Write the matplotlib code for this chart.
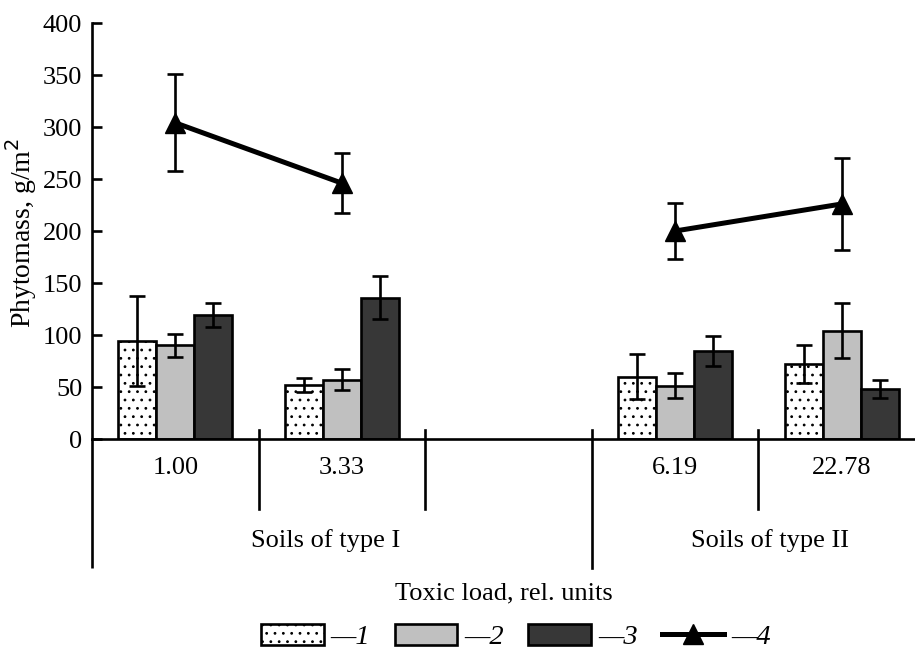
import matplotlib
matplotlib.use("Agg")
import matplotlib.pyplot as plt
import matplotlib.transforms as mtransforms
from matplotlib.patches import Patch
from matplotlib.lines import Line2D

plt.rcParams['font.family'] = ['Liberation Serif', 'DejaVu Serif']
plt.rcParams['hatch.linewidth'] = 0.8
plt.rcParams['hatch.color'] = '#555555'

# ---- data ----
categories = ["1.00", "3.33", "6.19", "22.78"]
positions = [0, 1, 3, 4]
soil_types = ["I", "I", "II", "II"]
soil_labels = ["Soils of type I", "Soils of type II"]
series1 = [94, 52, 60, 72]
err1 = [43.5, 7, 22, 18.5]
series2 = [90, 57, 51, 104]
err2 = [11, 10, 12, 26.5]
series3 = [119, 136, 85, 48]
err3 = [11.5, 20.5, 14.5, 8.5]
series4 = [304, 246, 200, 226]
err4 = [46.5, 29, 27, 44.5]
yticks = [0, 50, 100, 150, 200, 250, 300, 350, 400]
legend_labels = ["\u20141", "\u20142", "\u20143", "\u20144"]

FS = 19

fig = plt.figure(figsize=(9.15, 6.51), dpi=100)
W, H = 915, 651
ax = fig.add_axes([92 / W, (H - 439) / H, (925 - 92) / W, (439 - 23) / H])

bw = 0.228
lw = 1.9
ekw = dict(ecolor='black', elinewidth=lw, capsize=5.6, capthick=lw)

ax.bar([p - bw for p in positions], series1, bw, color='white', edgecolor='black',
       linewidth=lw, hatch='..', zorder=2)
ax.bar(positions, series2, bw, color='#c0c0c0', edgecolor='black', linewidth=lw, zorder=2)
ax.bar([p + bw for p in positions], series3, bw, color='#373737', edgecolor='black',
       linewidth=lw, zorder=2)
ax.errorbar([p - bw for p in positions], series1, yerr=err1, fmt='none', zorder=3, **ekw)
ax.errorbar(positions, series2, yerr=err2, fmt='none', zorder=3, **ekw)
ax.errorbar([p + bw for p in positions], series3, yerr=err3, fmt='none', zorder=3, **ekw)

for st in ["I", "II"]:
    idx = [i for i, s in enumerate(soil_types) if s == st]
    xs = [positions[i] for i in idx]
    ys = [series4[i] for i in idx]
    es = [err4[i] for i in idx]
    ax.errorbar(xs, ys, yerr=es, fmt='none', zorder=3, **ekw)
    ax.plot(xs, ys, color='black', lw=3.6, marker='^', ms=14, zorder=4)

ax.set_xlim(-0.5, 4.5)
ax.set_ylim(0, 400)
ax.set_yticks(yticks)
ax.set_xticks([])
ax.tick_params(axis='y', direction='in', length=7.2, width=lw, pad=7, labelsize=FS)
for s in ['top', 'right']:
    ax.spines[s].set_visible(False)
for s in ['left', 'bottom']:
    ax.spines[s].set_linewidth(lw)
ax.spines['left'].set_bounds(0, 400)

trans = mtransforms.blended_transform_factory(ax.transData, ax.transAxes)
# separators
for x in [0.5, 1.5, 3.5]:
    ax.plot([x, x], [0.0216, -0.168], color='black', lw=lw, transform=trans, clip_on=False)
ax.plot([2.5, 2.5], [0.0216, -0.31], color='black', lw=lw, transform=trans, clip_on=False)
ax.plot([-0.5, -0.5], [0, -0.31], color='black', lw=lw, transform=trans, clip_on=False,
        solid_capstyle='butt')

for p, c in zip(positions, categories):
    ax.text(p, -0.069, c, transform=trans, ha='center', va='center', fontsize=FS)
ax.text(0.9, -0.243, soil_labels[0], transform=trans, ha='center', va='center', fontsize=FS)
ax.text(3.57, -0.243, soil_labels[1], transform=trans, ha='center', va='center', fontsize=FS)
ax.text(1.97, -0.372, "Toxic load, rel. units", transform=trans, ha='center', va='center',
        fontsize=FS)

fig.text(21 / W, 1 - 233 / H, "Phytomass, g/m$^2$", rotation=90, ha='center', va='center',
         fontsize=20)

handles = [
    Patch(facecolor='white', edgecolor='black', hatch='..', linewidth=lw),
    Patch(facecolor='#c0c0c0', edgecolor='black', linewidth=lw),
    Patch(facecolor='#373737', edgecolor='black', linewidth=lw),
    Line2D([0], [0], color='black', lw=3.6, marker='^', ms=14),
]
fig.legend(handles, legend_labels, loc='center', bbox_to_anchor=(516 / W, 1 - 637 / H),
           ncol=4, frameon=False, prop={'style': 'italic', 'size': 20.5},
           handlelength=2.2, handleheight=0.8, handletextpad=0.25, columnspacing=0.85,
           borderpad=0, borderaxespad=0)

fig.savefig("out.png", dpi=100)
